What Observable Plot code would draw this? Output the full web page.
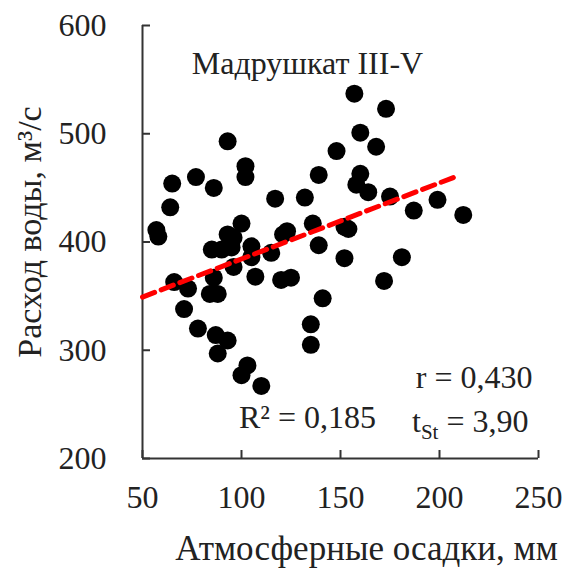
<!DOCTYPE html>
<html>
<head>
<meta charset="utf-8">
<script src="https://cdn.jsdelivr.net/npm/d3@7"></script>
<script src="https://cdn.jsdelivr.net/npm/@observablehq/plot@0.6"></script>
<style>
  html, body { margin: 0; padding: 0; background: #fff; }
</style>
</head>
<body>
<div id="chart"></div>
<script>
// ---- data ----
const precipitation = [93,65,77,86,102,102,64,117,132,139,148,157,57,58,100,93,96,123,121,136,139,152,154,85,90,95,105,105,115,152,66,73,86,84,88,96,107,120,125,141,71,78,87,93,88,135,135,103,100,110,173,160,168,160,158,164,175,187,199,212,181,172];
const discharge = [493,454,460,450,470,460,432,440,441,462,484,537,411,405,417,407,404,410,407,417,397,414,412,393,393,395,396,386,390,385,363,357,367,352,352,377,368,365,367,348,338,320,314,309,297,324,305,286,277,267,523,501,488,463,453,446,442,429,439,425,386,364];
const xTicks = [50, 100, 150, 200, 250];
const yTicks = [200, 300, 400, 500, 600];
const trendRange = [50, 210];
const trendIntercept = 314;
const trendSlope = 0.703;
const chartTitle = "Мадрушкат III-V";
const xTitle = "Атмосферные осадки, мм";
const yTitle = "Расход воды, м³/с";
const r2Label = "R² = 0,185";
const rLabel = "r = 0,430";
const tLabel = "tSt = 3,90";

const points = precipitation.map((x, i) => ({x, y: discharge[i]}));
const trend = trendRange.map(x => ({x, y: trendIntercept + trendSlope * x}));

const W = 576, H = 571, mL = 142, mR = 38, mT = 25, mB = 113;
const frameW = W - mL - mR, frameH = H - mT - mB;
const ink = "#222";
const axisInk = "#333";

const chart = Plot.plot({
  width: W, height: H,
  marginLeft: mL, marginRight: mR, marginTop: mT, marginBottom: mB,
  x: {domain: [50, 250], axis: null},
  y: {domain: [200, 600], axis: null},
  style: {fontFamily: "'Liberation Serif', 'Times New Roman', serif", fontSize: "32px", color: ink, background: "#fff"},
  marks: [
    Plot.ruleX([50], {stroke: axisInk, strokeWidth: 2}),
    Plot.ruleY([200], {stroke: axisInk, strokeWidth: 2}),
    Plot.tickX(xTicks, {x: d => d, stroke: axisInk, strokeWidth: 2, insetTop: frameH - 8}),
    Plot.tickY(yTicks, {y: d => d, stroke: axisInk, strokeWidth: 2, insetRight: frameW - 8}),
    Plot.text(xTicks, {x: d => d, frameAnchor: "bottom", dy: 49, text: d => String(d), fill: ink, fontSize: 32}),
    Plot.text(yTicks, {y: d => d, frameAnchor: "left", dx: -36, textAnchor: "end", text: d => String(d), fill: ink, fontSize: 32}),
    Plot.dot(points, {x: "x", y: "y", r: 9, fill: "#000", stroke: null}),
    Plot.line(trend, {x: "x", y: "y", stroke: "#ff0000", strokeWidth: 5, strokeDasharray: "13,7"}),
    Plot.text([xTitle], {frameAnchor: "bottom", dx: 26, dy: 101, text: d => d, fill: ink, fontSize: 35}),
    Plot.text([yTitle], {frameAnchor: "left", dx: -112, dy: -10, rotate: -90, textAnchor: "middle", text: d => d, fill: ink, fontSize: 34}),
    Plot.text([chartTitle], {frameAnchor: "top", dx: -33, dy: 26, text: d => d, fill: ink, fontSize: 32}),
    Plot.text([r2Label], {frameAnchor: "bottom", dx: -33, dy: -31, text: d => d, fill: ink, fontSize: 32}),
    Plot.text([rLabel], {frameAnchor: "bottom-right", dx: -6, dy: -71, textAnchor: "end", text: d => d, fill: ink, fontSize: 32}),
    Plot.text([tLabel], {frameAnchor: "bottom-right", dx: -10, dy: -27, textAnchor: "end", text: d => d, fill: ink, fontSize: 32})
  ]
});

// subscript "St" in the t-statistic label
d3.select(chart).selectAll("text").filter(function() { return this.textContent === tLabel; }).each(function() {
  const t = d3.select(this);
  t.text(null);
  t.append("tspan").text("t");
  t.append("tspan").attr("font-size", 21).attr("dy", 7).text("St");
  t.append("tspan").attr("dy", -7).text(" = 3,90");
});

document.getElementById("chart").appendChild(chart);
</script>
</body>
</html>
